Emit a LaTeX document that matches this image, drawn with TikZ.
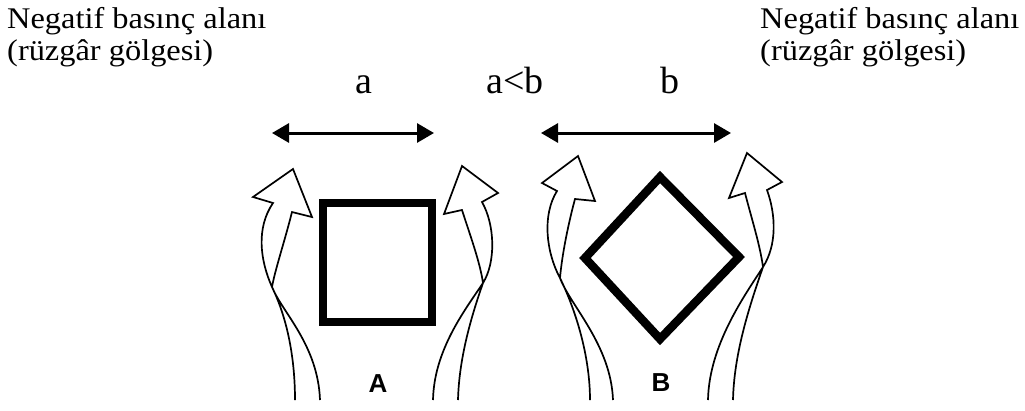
\documentclass[tikz,border=0pt]{standalone}
\usepackage{fontspec}
\setmainfont{Liberation Serif}
\newfontfamily\labelsans{Liberation Sans}
\usetikzlibrary{arrows.meta}
\tikzset{
  txt/.style={inner sep=0pt, anchor=base west, font=\fontsize{30}{32}\selectfont, xscale=1.08, transform shape},
  dimlbl/.style={inner sep=0pt, anchor=base, font=\fontsize{38}{40}\selectfont},
  caselbl/.style={inner sep=0pt, font=\labelsans\bfseries\fontsize{26}{28}\selectfont},
  dimarrow/.style={line width=3pt, {Triangle[length=17pt,width=19pt]}-{Triangle[length=17pt,width=19pt]}},
  building/.style={line width=8.5pt, line join=miter},
  wind/.style={line width=1.7pt, line join=miter}
}
\begin{document}
\begin{tikzpicture}[x=1pt,y=-1pt]
\useasboundingbox (0,0) rectangle (1025,410);

% texts
\node[txt] (tl1) at (7,28) {Negatif basınç alanı};
\node[txt] (tl2) at (7,60) {(rüzgâr gölgesi)};
\node[txt] (tr1) at (760,28) {Negatif basınç alanı};
\node[txt] (tr2) at (760,60) {(rüzgâr gölgesi)};
\node[dimlbl] (la) at (364,93) {a};
\node[dimlbl] (lab) at (515,93) {a<b};
\node[dimlbl] (lb) at (670,93) {b};

% dimension arrows
\coordinate (a1) at (272,133);
\coordinate (a2) at (434,133);
\coordinate (b1) at (541,133);
\coordinate (b2) at (731,133);
\draw[dimarrow] (a1) -- (a2);
\draw[dimarrow] (b1) -- (b2);

% buildings
\draw[building] (323,203) rectangle (432,322);
\draw[building] (660,177) -- (739,257) -- (660,339) -- (585,258) -- cycle;
\node[caselbl] (cA) at (378,384) {A};
\node[caselbl] (cB) at (661,383) {B};

% wind arrows: A left
\draw[wind] (320,400) .. controls (318,345) and (282,312) .. (272,287)
  .. controls (260,260) and (256,228) .. (273,203) -- (253,197) -- (293,169) -- (312,217) -- (292,212)
  .. controls (285,240) and (275,270) .. (272,287)
  .. controls (288,320) and (295,360) .. (295,400);
% A right
\draw[wind] (433,400) .. controls (434,350) and (465,310) .. (483,283)
  .. controls (496,262) and (495,225) .. (482,202) -- (498,193) -- (462,166) -- (444,214) -- (462,210)
  .. controls (470,235) and (480,262) .. (483,283)
  .. controls (470,320) and (459,360) .. (458,400);
% B left
\draw[wind] (613,400) .. controls (611,345) and (570,305) .. (560,278)
  .. controls (546,252) and (542,215) .. (557,191) -- (542,183) -- (578,156) -- (595,201) -- (575,199)
  .. controls (568,225) and (562,255) .. (560,278)
  .. controls (578,315) and (590,360) .. (590,400);
% B right
\draw[wind] (708,400) .. controls (709,345) and (745,295) .. (763,267)
  .. controls (777,245) and (776,215) .. (767,190) -- (782,182) -- (747,153) -- (729,198) -- (745,193)
  .. controls (752,220) and (760,245) .. (763,267)
  .. controls (748,310) and (734,355) .. (733,400);
\end{tikzpicture}
\end{document}
